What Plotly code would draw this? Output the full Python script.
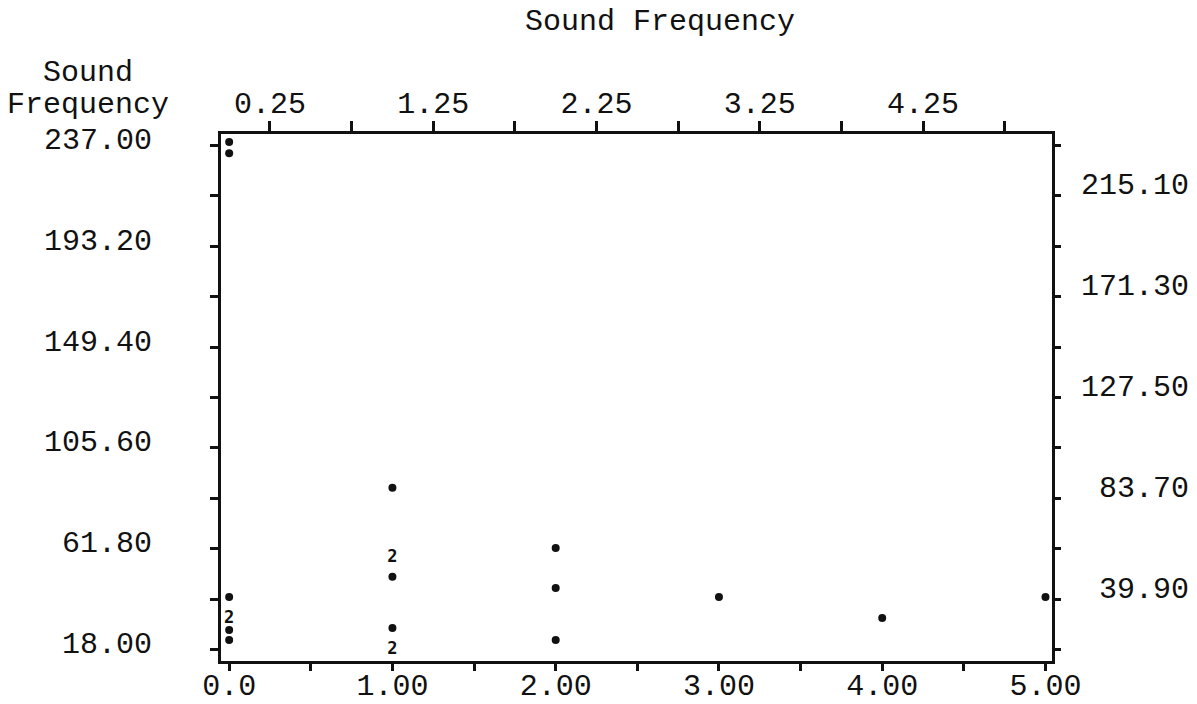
import plotly.graph_objects as go

# Observations: x value, sound frequency, number of coincident observations
x_vals = [0, 0, 0, 0, 0, 0, 1, 1, 1, 1, 1, 2, 2, 2, 3, 4, 5]
y_vals = [238.3, 233.5, 41.0, 31.4, 26.7, 22.3,
          88.3, 57.9, 49.7, 27.5, 18.0,
          62.2, 44.9, 22.3,
          41.0, 31.9, 41.0]
counts = [1, 1, 1, 2, 1, 1,
          1, 2, 1, 1, 2,
          1, 1, 1,
          1, 1, 1]

# Axis tick positions and labels
bottom_ticks = [0, 0.5, 1, 1.5, 2, 2.5, 3, 3.5, 4, 4.5, 5]
bottom_labels = ["0.0", "", "1.00", "", "2.00", "", "3.00", "", "4.00", "", "5.00"]
top_ticks = [0.25, 0.75, 1.25, 1.75, 2.25, 2.75, 3.25, 3.75, 4.25, 4.75]
top_labels = ["0.25", "", "1.25", "", "2.25", "", "3.25", "", "4.25", ""]
y_ticks = [237.0, 215.1, 193.2, 171.3, 149.4, 127.5, 105.6, 83.7, 61.8, 39.9, 18.0]
left_labels = ["237.00", "", "193.20", "", "149.40", "", "105.60", "", "61.80", "", "18.00"]
right_labels = ["", "215.10", "", "171.30", "", "127.50", "", "\u00a083.70", "", "\u00a039.90", ""]

X_RANGE = [-0.05, 5.04]
Y_RANGE = [13.2, 241.8]
FONT = "Liberation Mono"
INK = "#111111"

single_x = [x for x, c in zip(x_vals, counts) if c == 1]
single_y = [y for y, c in zip(y_vals, counts) if c == 1]
multi_x = [x for x, c in zip(x_vals, counts) if c > 1]
multi_y = [y for y, c in zip(y_vals, counts) if c > 1]
multi_t = [str(c) for c in counts if c > 1]

fig = go.Figure()
fig.add_trace(go.Scatter(
    x=single_x, y=single_y, mode="markers",
    marker=dict(size=8, color=INK), cliponaxis=False, showlegend=False,
))
fig.add_trace(go.Scatter(
    x=multi_x, y=multi_y, mode="text", text=multi_t,
    textfont=dict(family="DejaVu Sans Mono", size=17, color=INK, weight="bold"),
    cliponaxis=False, showlegend=False,
))
# Invisible trace so the top/right axes are laid out
fig.add_trace(go.Scatter(
    x=x_vals, y=y_vals, mode="markers", marker=dict(opacity=0),
    xaxis="x2", yaxis="y2", hoverinfo="skip", showlegend=False,
))

axis_common = dict(
    showline=True, linewidth=3, linecolor=INK, mirror=False, automargin=False,
    showgrid=False, zeroline=False, ticks="outside", tickwidth=3, tickcolor=INK,
    tickfont=dict(family=FONT, size=30, color=INK), tickmode="array",
)

title_font = dict(family=FONT, size=30, color=INK)

fig.update_layout(
    template="none",
    width=1197, height=704,
    margin=dict(l=221, r=145, t=134, b=43, autoexpand=False),
    paper_bgcolor="white", plot_bgcolor="white",
    xaxis=dict(axis_common, range=X_RANGE, tickvals=bottom_ticks, ticktext=bottom_labels,
               ticklen=7, ticklabelstandoff=-12, anchor="y"),
    xaxis2=dict(axis_common, range=X_RANGE, tickvals=top_ticks, ticktext=top_labels,
                ticklen=10, ticklabelstandoff=-4, side="top", overlaying="x", anchor="y2"),
    yaxis=dict(axis_common, range=Y_RANGE, tickvals=y_ticks, ticktext=left_labels,
               ticklen=8, ticklabelshift=-7, ticklabelstandoff=52, anchor="x"),
    yaxis2=dict(axis_common, range=Y_RANGE, tickvals=y_ticks, ticktext=right_labels,
                ticklen=6, ticklabelshift=-12, ticklabelstandoff=14,
                side="right", overlaying="y", anchor="x2"),
    annotations=[
        dict(text="Sound Frequency", xref="paper", yref="paper", x=0.528, y=1.2125,
             xanchor="center", yanchor="middle", showarrow=False, font=title_font),
        dict(text="Sound", xref="paper", yref="paper", x=-0.160, y=1.116,
             xanchor="center", yanchor="middle", showarrow=False, font=title_font),
        dict(text="Frequency", xref="paper", yref="paper", x=-0.160, y=1.055,
             xanchor="center", yanchor="middle", showarrow=False, font=title_font),
    ],
)

fig.write_html("out.html")
